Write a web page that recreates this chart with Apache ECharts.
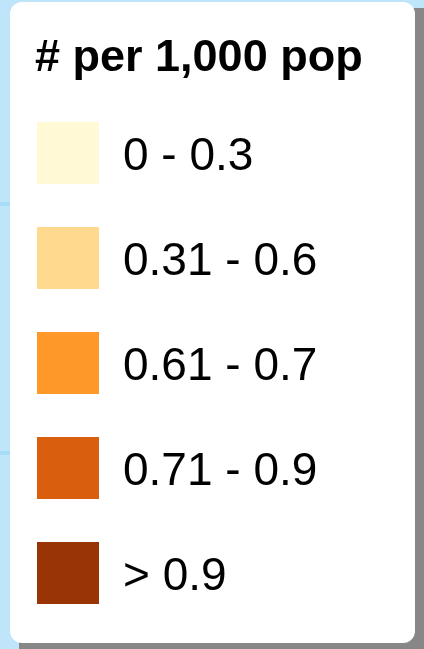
<!DOCTYPE html>
<html>
<head>
<meta charset="utf-8">
<script src="https://cdn.jsdelivr.net/npm/echarts@6/dist/echarts.min.js"></script>
<style>
html,body{margin:0;padding:0;background:#bee5f9;}
#chart{width:424px;height:649px;}
</style>
</head>
<body>
<div id="chart"></div>
<script>
const legendTitle = '# per 1,000 pop';
const classLabels = ['0 - 0.3', '0.31 - 0.6', '0.61 - 0.7', '0.71 - 0.9', '> 0.9'];
const classMin = [0, 0.31, 0.61, 0.71, 0.9];
const classMax = [0.3, 0.6, 0.7, 0.9, null];
const classColors = ['#fffad5', '#fed98e', '#fe9929', '#d95f0e', '#993404'];

function buildPieces(transparent) {
  return classLabels.map((lab, i) => {
    const p = { min: classMin[i], label: lab, color: transparent ? 'rgba(0,0,0,0)' : classColors[i] };
    if (classMax[i] !== null) p.max = classMax[i]; else p.gt = classMin[i];
    return p;
  });
}

const common = {
  type: 'piecewise',
  orient: 'vertical',
  left: 37,
  padding: 0,
  z: 10,
  itemWidth: 62,
  itemHeight: 62,
  itemGap: 43,
  textGap: 24,
  itemSymbol: 'rect',
  inverse: true,
  hoverLink: false
};

const chart = echarts.init(document.getElementById('chart'), null, { renderer: 'canvas' });
chart.setOption({
  backgroundColor: '#bee5f9',
  animation: false,
  graphic: [
    { type: 'rect', z: 0, shape: { x: 0, y: 202, width: 12, height: 4 }, style: { fill: '#a8dcf6' } },
    { type: 'rect', z: 0, shape: { x: 0, y: 451, width: 12, height: 4 }, style: { fill: '#a8dcf6' } },
    { type: 'rect', z: 1, shape: { x: 19, y: 8, width: 420, height: 660, r: 12 }, style: { fill: '#878787' } },
    { type: 'rect', z: 2, shape: { x: 10, y: 2, width: 405, height: 641, r: 12 }, style: { fill: '#ffffff' } }
  ],
  title: {
    text: legendTitle,
    left: 35,
    top: 33,
    padding: 0,
    z: 10,
    textStyle: { fontFamily: 'Liberation Sans', fontWeight: 'bold', fontSize: 45, color: '#000', lineHeight: 52 }
  },
  visualMap: [
    Object.assign({}, common, {
      top: 122,
      pieces: buildPieces(false),
      textStyle: { fontFamily: 'Liberation Sans', fontSize: 46, color: 'rgba(0,0,0,0)' }
    }),
    Object.assign({}, common, {
      top: 126,
      pieces: buildPieces(true),
      textStyle: { fontFamily: 'Liberation Sans', fontSize: 46, color: '#000' }
    })
  ],
  series: []
});
</script>
</body>
</html>
